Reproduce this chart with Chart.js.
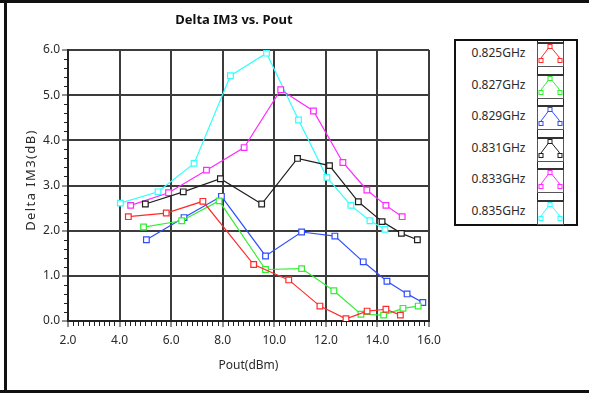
<!DOCTYPE html>
<html>
<head>
<meta charset="utf-8">
<title>Delta IM3 vs. Pout</title>
<script src="https://cdn.jsdelivr.net/npm/chart.js@4.4.0/dist/chart.umd.min.js"></script>
<style>
    body { margin: 0; background: #fff; }
    #wrap { position: relative; width: 589px; height: 393px; overflow: hidden; }
    #chart { position: absolute; left: 0; top: 0; }
    .legend {
        position: absolute; left: 454px; top: 39px; width: 124px; height: 187px;
        border: 2px solid #111; box-sizing: border-box; background: #fff;
        font-family: 'Noto Sans', sans-serif; font-size: 12px; color: #2a2a2a;
    }
    .legend .col { position: absolute; top: 0; bottom: 0; width: 1px; background: #222; }
    .legend .row { position: absolute; left: 0; width: 81px; height: 20px; line-height: 20px; text-align: center; padding-left: 4px; box-sizing: border-box; }
    .legend svg { position: absolute; left: 81px; }
</style>
</head>
<body>
<div id="wrap">
    <canvas id="chart" width="589" height="393"></canvas>
    <div class="legend" id="legend"></div>
</div>
<script>
// Series names and colours
const seriesNames = ['0.825GHz', '0.827GHz', '0.829GHz', '0.831GHz', '0.833GHz', '0.835GHz'];
const seriesColors = ['#ff2a2a', '#33ee33', '#2f4dff', '#1e1e1e', '#ff2aff', '#33ffff'];

// Pout (dBm) and Delta IM3 (dB) per frequency
const pout825 = [4.34, 5.81, 7.23, 9.20, 10.56, 11.77, 12.78, 13.60, 14.33, 14.89];
const dim825  = [2.31, 2.39, 2.65, 1.25, 0.91, 0.33, 0.05, 0.22, 0.26, 0.13];

const pout827 = [4.93, 6.41, 7.86, 9.66, 11.06, 12.31, 13.36, 14.24, 14.99, 15.58];
const dim827  = [2.08, 2.22, 2.66, 1.14, 1.16, 0.67, 0.15, 0.13, 0.28, 0.33];

const pout829 = [5.04, 6.50, 7.95, 9.66, 11.06, 12.35, 13.45, 14.37, 15.15, 15.76];
const dim829  = [1.80, 2.29, 2.76, 1.44, 1.97, 1.88, 1.31, 0.88, 0.60, 0.41];

const pout831 = [5.00, 6.47, 7.91, 9.51, 10.90, 12.14, 13.26, 14.18, 14.93, 15.55];
const dim831  = [2.59, 2.86, 3.15, 2.59, 3.60, 3.44, 2.64, 2.20, 1.94, 1.80];

const pout833 = [4.43, 5.90, 7.37, 8.83, 10.25, 11.52, 12.66, 13.59, 14.33, 14.96];
const dim833  = [2.56, 2.84, 3.34, 3.84, 5.12, 4.65, 3.51, 2.90, 2.56, 2.31];

const pout835 = [4.03, 5.49, 6.89, 8.30, 9.70, 10.94, 12.04, 12.97, 13.71, 14.29];
const dim835  = [2.61, 2.86, 3.49, 5.43, 5.93, 4.45, 3.18, 2.56, 2.22, 2.03];

const poutSets = [pout825, pout827, pout829, pout831, pout833, pout835];
const dimSets = [dim825, dim827, dim829, dim831, dim833, dim835];

const FONT = "'Noto Sans', sans-serif";

// Outer frame, chart title and the spaced-out y axis title
const framePlugin = {
    id: 'frame',
    beforeDraw(chart) {
        const ctx = chart.ctx;
        ctx.save();
        ctx.fillStyle = '#fff';
        ctx.fillRect(0, 0, chart.width, chart.height);
        ctx.fillStyle = '#111';
        ctx.fillRect(0, 0, chart.width, 3);
        ctx.fillRect(4, 0, 3, chart.height);
        ctx.fillRect(0, chart.height - 3, chart.width, 3);
        ctx.restore();
    },
    afterDraw(chart) {
        const ctx = chart.ctx;
        ctx.save();
        ctx.fillStyle = '#111';
        ctx.font = 'bold 13px ' + FONT;
        ctx.textAlign = 'center';
        ctx.textBaseline = 'middle';
        ctx.fillText('Delta IM3 vs. Pout', 234, 20);
        ctx.restore();

        ctx.save();
        ctx.translate(31, 180);
        ctx.rotate(-Math.PI / 2);
        ctx.fillStyle = '#2a2a2a';
        ctx.font = '13px ' + FONT;
        ctx.letterSpacing = '1.4px';
        ctx.textAlign = 'center';
        ctx.textBaseline = 'middle';
        ctx.fillText('Delta IM3(dB)', 0, 0);
        ctx.restore();
    }
};

// Small minor ticks every 0.2 on both axes
const minorTicks = {
    id: 'minorTicks',
    afterDraw(chart) {
        const {ctx, chartArea} = chart;
        const x = chart.scales.x;
        const y = chart.scales.y;
        ctx.save();
        ctx.strokeStyle = '#222';
        ctx.lineWidth = 1;
        ctx.beginPath();
        for (let i = 1; i < 70; i++) {
            if (i % 10 === 0) continue;
            const px = Math.round(x.getPixelForValue(2 + i * 0.2)) + 0.5;
            ctx.moveTo(px, chartArea.bottom + 1);
            ctx.lineTo(px, chartArea.bottom + 5);
        }
        for (let i = 1; i < 30; i++) {
            if (i % 5 === 0) continue;
            const py = Math.round(y.getPixelForValue(i * 0.2)) + 0.5;
            ctx.moveTo(chartArea.left - 4, py);
            ctx.lineTo(chartArea.left - 1, py);
        }
        ctx.stroke();
        ctx.restore();
    }
};

const datasets = seriesNames.map((name, i) => ({
    label: name,
    data: poutSets[i].map((p, j) => ({ x: p, y: dimSets[i][j] })),
    borderColor: seriesColors[i],
    backgroundColor: '#fff',
    borderWidth: 1.2,
    pointStyle: 'rect',
    pointRadius: 4,
    pointBorderWidth: 1.2,
    pointBorderColor: seriesColors[i],
    pointBackgroundColor: '#fff',
    tension: 0,
    fill: false
}));

new Chart(document.getElementById('chart'), {
    type: 'line',
    data: { datasets: datasets },
    options: {
        responsive: false,
        animation: false,
        layout: { padding: { left: 0, top: 50, right: 160, bottom: 0 } },
        plugins: {
            legend: { display: false },
            title: { display: false },
            tooltip: { enabled: false }
        },
        scales: {
            x: {
                type: 'linear',
                min: 2,
                max: 16,
                afterFit: function(scale) { scale.height = 72; },
                ticks: {
                    stepSize: 2,
                    maxRotation: 0,
                    padding: 6,
                    color: '#2a2a2a',
                    font: { family: FONT, size: 12 },
                    callback: function(value) { return value.toFixed(1); }
                },
                grid: { color: '#3c3c3c', lineWidth: 2, tickLength: 6, tickColor: '#222', tickWidth: 1 },
                border: { color: '#222', width: 2 },
                title: {
                    display: true,
                    text: 'Pout(dBm)',
                    color: '#2a2a2a',
                    font: { family: FONT, size: 12 },
                    padding: { top: 0, bottom: 20 }
                }
            },
            y: {
                type: 'linear',
                min: 0,
                max: 6,
                afterFit: function(scale) { scale.width = 68; },
                ticks: {
                    stepSize: 1,
                    padding: 2,
                    color: '#2a2a2a',
                    font: { family: FONT, size: 12 },
                    callback: function(value) { return value.toFixed(1); }
                },
                grid: { color: '#3c3c3c', lineWidth: 2, tickLength: 6, tickColor: '#222', tickWidth: 1 },
                border: { color: '#222', width: 2 }
            }
        }
    },
    plugins: [framePlugin, minorTicks]
});

// Legend table: name column, icon column, empty column
const legend = document.getElementById('legend');
['81px', '107px'].forEach(left => {
    const col = document.createElement('div');
    col.className = 'col';
    col.style.left = left;
    legend.appendChild(col);
});
seriesNames.forEach((name, i) => {
    const rowTop = 2 + i * 31.6;
    const row = document.createElement('div');
    row.className = 'row';
    row.style.top = rowTop + 'px';
    row.textContent = name;
    legend.appendChild(row);

    const c = seriesColors[i];
    const icon = document.createElementNS('http://www.w3.org/2000/svg', 'svg');
    icon.setAttribute('width', '27');
    icon.setAttribute('height', '25');
    icon.style.top = (rowTop - 1) + 'px';
    icon.innerHTML =
        '<rect x="0.5" y="0.5" width="26" height="24" fill="#fff" stroke="#555" stroke-width="1"/>' +
        '<rect x="0" y="0" width="27" height="2" fill="#333"/>' +
        '<polyline points="4,19 4,16 13,4 22,15 23,19" fill="none" stroke="' + c + '" stroke-width="1"/>' +
        '<rect x="2" y="16.5" width="4" height="4" fill="#fff" stroke="' + c + '" stroke-width="1"/>' +
        '<rect x="11" y="2.5" width="4" height="4" fill="#fff" stroke="' + c + '" stroke-width="1"/>' +
        '<rect x="21" y="16.5" width="4" height="4" fill="#fff" stroke="' + c + '" stroke-width="1"/>';
    legend.appendChild(icon);
});
</script>
</body>
</html>
